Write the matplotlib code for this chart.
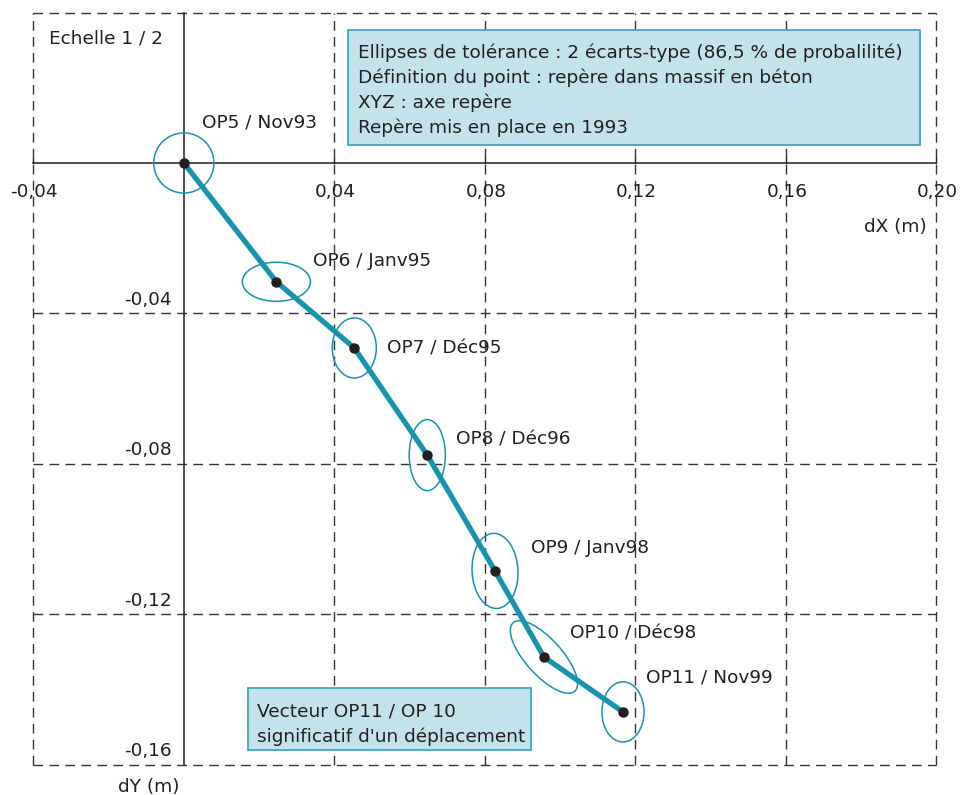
import matplotlib
matplotlib.use("Agg")
import matplotlib.pyplot as plt
from matplotlib.patches import Ellipse, Rectangle

plt.rcParams['font.family'] = ['DejaVu Sans']

# ---- data ----
labels = ["OP5 / Nov93", "OP6 / Janv95", "OP7 / Déc95", "OP8 / Déc96",
          "OP9 / Janv98", "OP10 / Déc98", "OP11 / Nov99"]
dx = [0.0, 0.0246, 0.0453, 0.0647, 0.0827, 0.0957, 0.1167]
dy = [0.0, -0.0316, -0.0492, -0.0777, -0.1085, -0.1314, -0.1460]
ell_w = [0.016, 0.0181, 0.0117, 0.0096, 0.0122, 0.0245, 0.0112]
ell_h = [0.016, 0.0104, 0.0160, 0.0189, 0.0200, 0.0096, 0.0160]
ell_ang = [0, 0, 0, 0, 3, -48, 0]
xticks = [-0.04, 0.04, 0.08, 0.12, 0.16, 0.20]
xtick_labels = ["-0,04", "0,04", "0,08", "0,12", "0,16", "0,20"]
yticks = [-0.04, -0.08, -0.12, -0.16]
ytick_labels = ["-0,04", "-0,08", "-0,12", "-0,16"]
grid_x = [-0.04, 0.04, 0.08, 0.12, 0.16, 0.20]
grid_y = [0.04, -0.04, -0.08, -0.12, -0.16]
info_lines = ["Ellipses de tolérance : 2 écarts-type (86,5 % de probalilité)",
              "Définition du point : repère dans massif en béton",
              "XYZ : axe repère",
              "Repère mis en place en 1993"]
note_lines = ["Vecteur OP11 / OP 10", "significatif d'un déplacement"]

# label offsets in pixels (styling): (right, up) to text baseline-left
lab_off = [(18, 35), (37, 16), (33, -6), (29, 11), (36, 18), (26, 19), (23, 29)]

teal = "#1794ab"
box_fc = "#c3e3ec"
box_ec = "#3fa8bd"
dark = "#231f20"
fs = 13.3

fig = plt.figure(figsize=(9.62, 7.95), dpi=100)
ax = fig.add_axes([0, 0, 1, 1])
ax.set_xlim(-0.04885, 0.2068)
ax.set_ylim(-0.1681, 0.04335)
ax.axis("off")


def px2data(px, py):
    return ax.transData.inverted().transform((px, fig.bbox.height - py))


# dashed grid
for gx in grid_x:
    ax.plot([gx, gx], [-0.16, 0.04], color="#333333", lw=1.0,
            dashes=(7, 4.5), zorder=1)
for gy in grid_y:
    ax.plot([-0.04, 0.20], [gy, gy], color="#333333", lw=1.0,
            dashes=(7, 4.5), zorder=1)

# axes lines
ax.plot([-0.04, 0.20], [0, 0], color=dark, lw=1.1, zorder=2)
ax.plot([0, 0], [-0.16, 0.04], color=dark, lw=1.1, zorder=2)
for t in xticks:
    ax.plot([t, t], [0, 0.0012], color=dark, lw=1.0, zorder=2)

# tick labels
for t, s in zip(xticks, xtick_labels):
    ax.annotate(s, (t, 0), xytext=(1, -33.7), textcoords="offset pixels",
                ha="center", va="baseline", fontsize=fs, color=dark)
for t, s in zip(yticks, ytick_labels):
    ax.annotate(s, (0, t), xytext=(-12, 8.3), textcoords="offset pixels",
                ha="right", va="baseline", fontsize=fs, color=dark)

ax.annotate("dX (m)", (0.20, 0), xytext=(-10, -68.7),
            textcoords="offset pixels", ha="right", va="baseline",
            fontsize=fs, color=dark)
ax.annotate("dY (m)", (0, -0.16), xytext=(-35, -27),
            textcoords="offset pixels", ha="center", va="baseline",
            fontsize=fs, color=dark)
ax.annotate("Echelle 1 / 2", (-0.04, 0.04), xytext=(16, -30.5),
            textcoords="offset pixels", ha="left", va="baseline",
            fontsize=fs, color=dark)

# path
ax.plot(dx, dy, color=teal, lw=3.8, solid_capstyle="butt", zorder=4)
# ellipses
for x, y, w, h, a in zip(dx, dy, ell_w, ell_h, ell_ang):
    ax.add_patch(Ellipse((x, y), w, h, angle=a, fill=False,
                         ec=teal, lw=1.1, zorder=3))
ax.plot(dx, dy, "o", color=dark, ms=6.5, zorder=5)

for x, y, s, off in zip(dx, dy, labels, lab_off):
    ax.annotate(s, (x, y), xytext=off, textcoords="offset pixels",
                ha="left", va="baseline", fontsize=fs, color=dark, zorder=6)

# info box
x0, y1 = px2data(348, 30)
x1, y0 = px2data(920, 145)
ax.add_patch(Rectangle((x0, y0), x1 - x0, y1 - y0, fc=box_fc, ec=box_ec,
                       lw=1.3, zorder=7))
for i, line in enumerate(info_lines):
    tx, ty = px2data(358, 58.3 + i * 25)
    ax.text(tx, ty, line, ha="left", va="baseline", fontsize=fs, color=dark,
            zorder=8)

# note box
x0, y1 = px2data(248, 688)
x1, y0 = px2data(531, 750)
ax.add_patch(Rectangle((x0, y0), x1 - x0, y1 - y0, fc=box_fc, ec=box_ec,
                       lw=1.3, zorder=7))
for i, line in enumerate(note_lines):
    tx, ty = px2data(257, 716.7 + i * 25)
    ax.text(tx, ty, line, ha="left", va="baseline", fontsize=fs, color=dark,
            zorder=8)

fig.savefig("out.png", dpi=100)
